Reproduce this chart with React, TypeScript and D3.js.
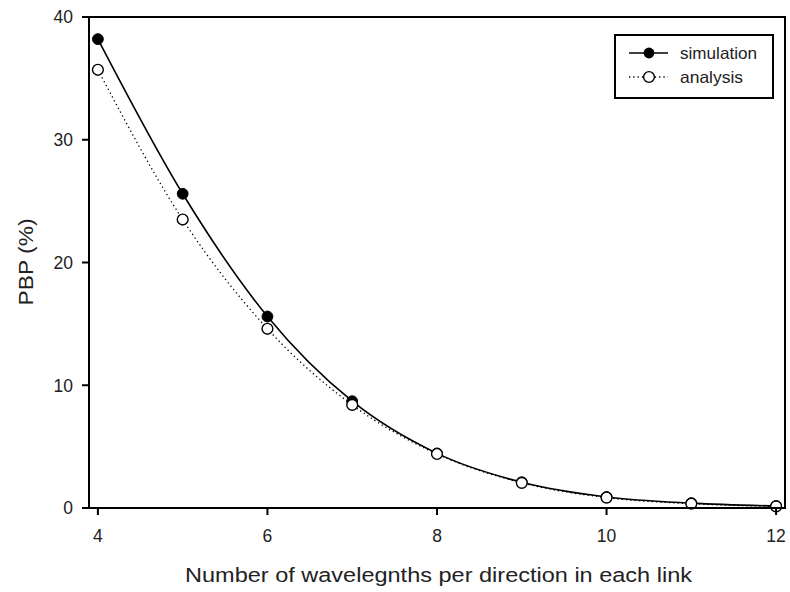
import React from "react";
import * as d3 from "d3";

const xValues = [4, 5, 6, 7, 8, 9, 10, 11, 12];
const simulation = [38.2, 25.6, 15.6, 8.7, 4.45, 2.1, 0.9, 0.4, 0.16];
const analysis = [35.7, 23.5, 14.6, 8.4, 4.4, 2.05, 0.85, 0.35, 0.13];
const xTicks = [4, 6, 8, 10, 12];
const yTicks = [0, 10, 20, 30, 40];
const seriesNames = ["simulation", "analysis"];
const xTitle = "Number of wavelegnths per direction in each link";
const yTitle = "PBP (%)";

const W = 790, H = 592;
const L = 89, R = 785, T = 17, B = 508;
const FONT = "Liberation Sans, Arial, sans-serif";

export default function App() {
  const x = d3.scaleLinear().domain([3.895, 12.105]).range([L, R]);
  const y = d3.scaleLinear().domain([0, 40]).range([B, T]);
  const line = d3
    .line<number>()
    .x((_, i) => x(xValues[i]))
    .y((d) => y(d))
    .curve(d3.curveMonotoneX);
  const r = 5.4;
  return (
    <svg width={W} height={H} style={{ position: "absolute", left: 0, top: 0, background: "#fff" }} fontFamily={FONT}>
      <rect x={0} y={0} width={W} height={H} fill="#fff" />
      <path d={line(analysis) || ""} fill="none" stroke="#000" strokeWidth={1.3} strokeDasharray="1.3,3" />
      <path d={line(simulation) || ""} fill="none" stroke="#000" strokeWidth={1.6} />
      {simulation.map((v, i) => (
        <circle key={"s" + i} cx={x(xValues[i])} cy={y(v)} r={r} fill="#000" stroke="#000" strokeWidth={1} />
      ))}
      {analysis.map((v, i) => (
        <circle key={"a" + i} cx={x(xValues[i])} cy={y(v)} r={r} fill="#fff" stroke="#000" strokeWidth={1.4} />
      ))}
      <rect x={L} y={T} width={R - L} height={B - T} fill="none" stroke="#000" strokeWidth={2} />
      {xTicks.map((t) => (
        <g key={"xt" + t}>
          <line x1={x(t)} x2={x(t)} y1={B} y2={B + 7} stroke="#000" strokeWidth={2} />
          <text x={x(t)} y={542} textAnchor="middle" fontSize={17.5} fill="#222">{t}</text>
        </g>
      ))}
      {yTicks.map((t) => (
        <g key={"yt" + t}>
          <line x1={L - 7} x2={L} y1={y(t)} y2={y(t)} stroke="#000" strokeWidth={2} />
          <text x={73} y={y(t) + 6.3} textAnchor="end" fontSize={17.5} fill="#222">{t}</text>
        </g>
      ))}
      <text x={185} y={582} fontSize={20.5} fill="#222" textLength={507} lengthAdjust="spacingAndGlyphs">
        {xTitle}
      </text>
      <text transform={`translate(33,262) rotate(-90)`} textAnchor="middle" fontSize={20.5} fill="#222" textLength={87} lengthAdjust="spacingAndGlyphs">
        {yTitle}
      </text>
      <g>
        <rect x={615} y={35} width={158} height={63} fill="#fff" stroke="#000" strokeWidth={2} />
        <line x1={629} x2={668} y1={53} y2={53} stroke="#000" strokeWidth={1.6} />
        <circle cx={649} cy={53} r={r} fill="#000" />
        <line x1={629} x2={668} y1={77} y2={77} stroke="#000" strokeWidth={1.3} strokeDasharray="1.3,3" />
        <circle cx={649} cy={77} r={r} fill="#fff" stroke="#000" strokeWidth={1.4} />
        <text x={680} y={58.5} fontSize={16.5} fill="#222" textLength={77} lengthAdjust="spacingAndGlyphs">{seriesNames[0]}</text>
        <text x={680} y={82.5} fontSize={16.5} fill="#222" textLength={63} lengthAdjust="spacingAndGlyphs">{seriesNames[1]}</text>
      </g>
    </svg>
  );
}
